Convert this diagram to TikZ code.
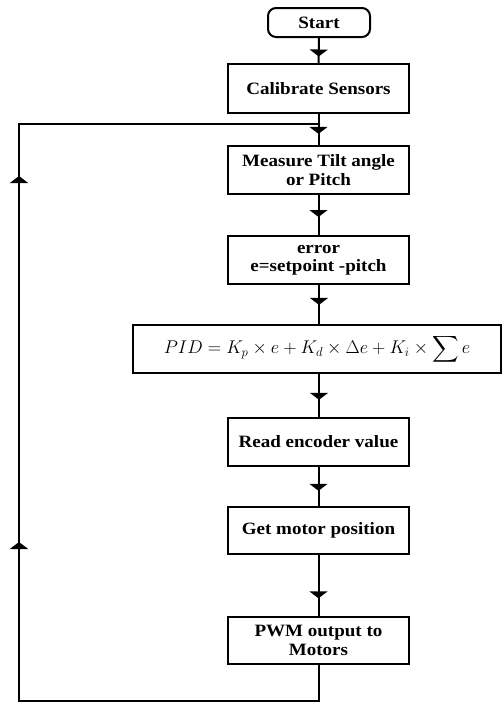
\documentclass[tikz,border=0pt]{standalone}
\usepackage{amsmath}
\usepackage{fontspec}
\setmainfont{Liberation Serif}[FakeStretch=1.1]
\usetikzlibrary{arrows.meta,decorations.markings}
\begin{document}
\begin{tikzpicture}[x=1pt,y=-1pt,line width=2pt,
  stepbox/.style={draw,rectangle,minimum width=181pt,minimum height=48pt,align=center,
    font=\fontsize{17.3}{18.5}\selectfont\bfseries,inner sep=2pt},
  tri/.tip={Triangle[width=18pt,length=7pt]},
  midarr/.style={postaction={decorate,decoration={markings,mark=at position #1 with {\arrow{tri}}}}}]
\useasboundingbox (0,0) rectangle (502,702);
\node[stepbox,rounded corners=8pt,minimum width=102pt,minimum height=29pt] (start) at (319,22.5) {Start};
\node[stepbox,minimum height=49pt] (cal) at (318.5,88.5) {Calibrate Sensors};
\node[stepbox] (meas) at (318.5,170) {Measure Tilt angle\\ or Pitch};
\node[stepbox] (err) at (318.5,260) {error\\ e=setpoint -pitch};
\node[stepbox,minimum width=368pt,font=\fontsize{18.3}{19}\selectfont] (pid) at (317,349)
  {\scalebox{1.065}{$\displaystyle PID = K_p \times e + K_d \times \Delta e + K_i \times \sum e$}};
\node[stepbox] (read) at (318.5,442) {Read encoder value};
\node[stepbox,minimum height=47pt] (get) at (318.5,530.5) {Get motor position};
\node[stepbox,minimum height=47pt] (pwm) at (318.5,640.5) {PWM output to\\ Motors};
\coordinate (j) at (319,124);
\coordinate (bl) at (19,701);
\coordinate (tl) at (19,124);
\draw[midarr=0.74] (start) -- (cal);
\draw[midarr=0.64] (cal) -- (meas);
\draw[midarr=0.55] (meas) -- (err);
\draw[midarr=0.51] (err.south -| j) -- (pid.north -| j);
\draw[midarr=0.6] (pid.south -| j) -- (read.north -| j);
\draw[midarr=0.61] (read) -- (get);
\draw[midarr=0.71] (get) -- (pwm);
\draw[postaction={decorate,decoration={markings,
   mark=at position 495pt with {\arrow{tri}},
   mark=at position 861pt with {\arrow{tri}}}}]
  (pwm.south -| j) -- (j |- bl) -- (bl) -- (tl) -- (j);
\end{tikzpicture}
\end{document}
